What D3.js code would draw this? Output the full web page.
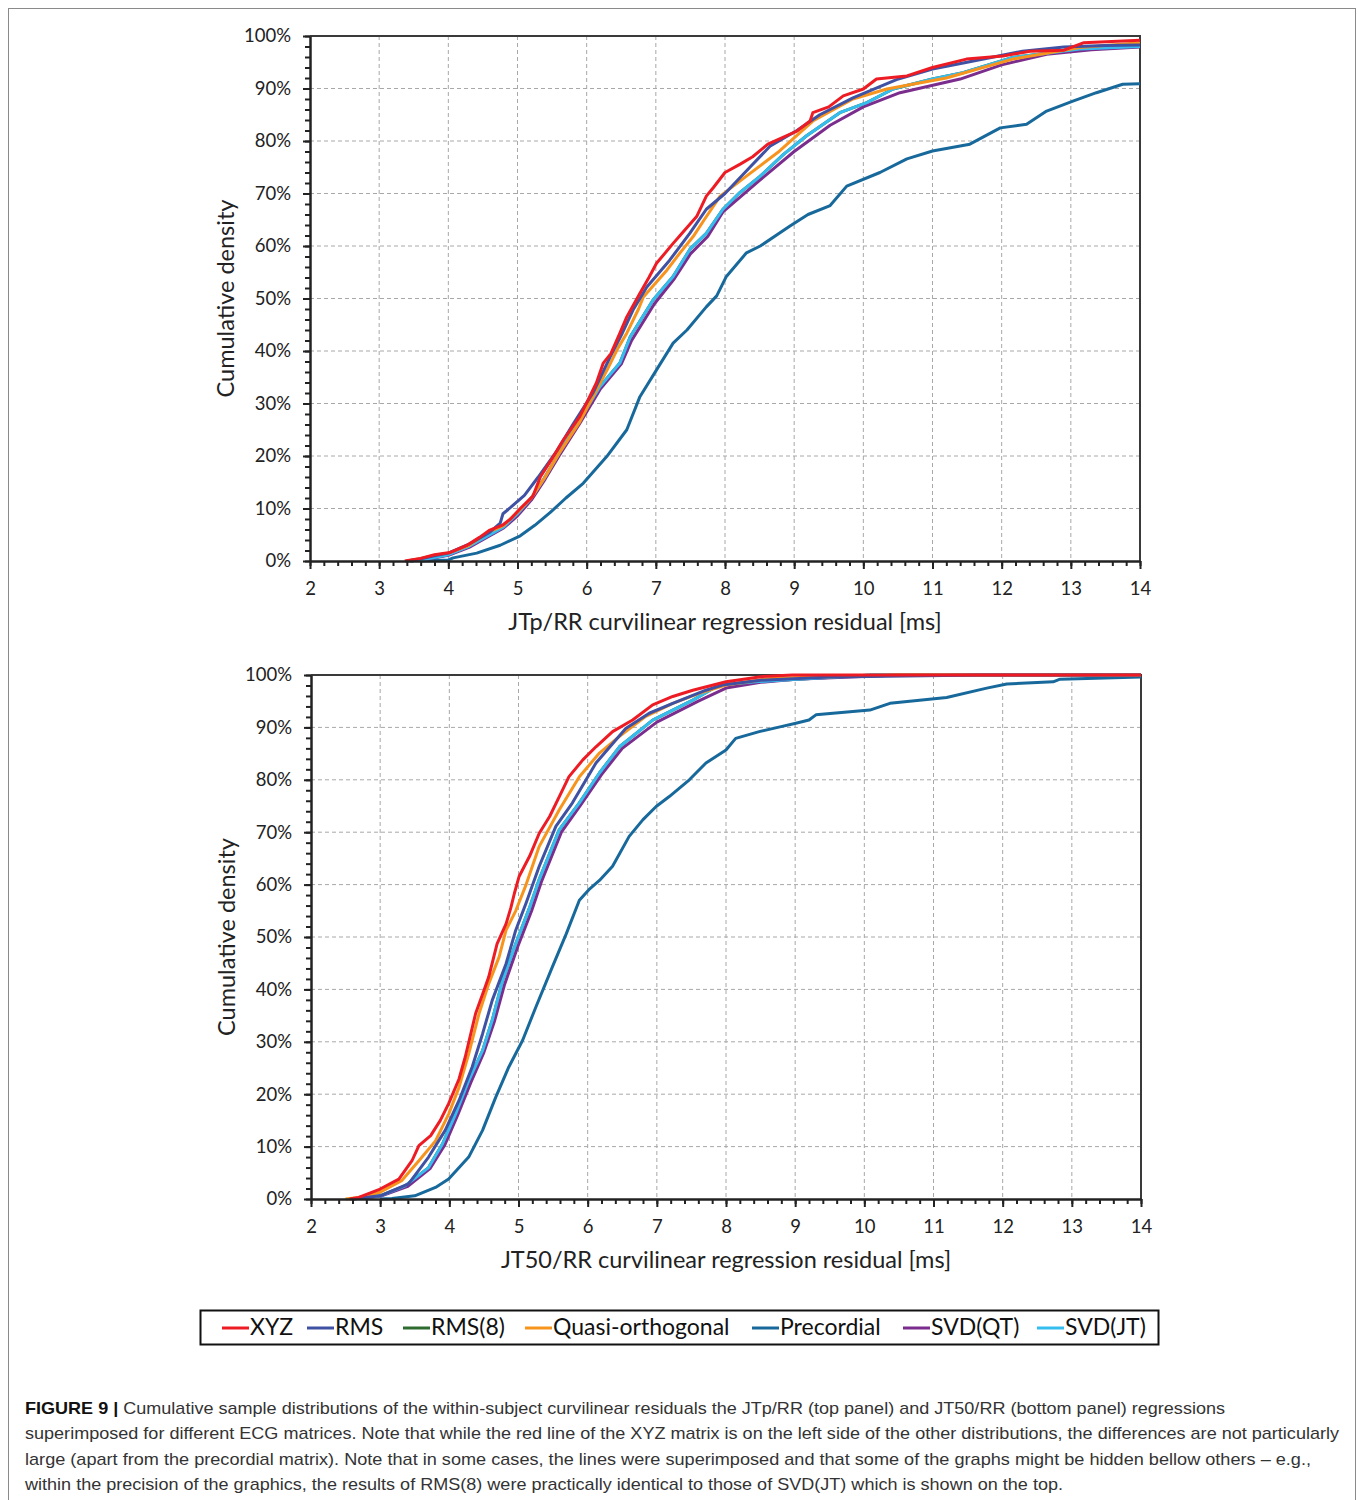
<!DOCTYPE html>
<html>
<head>
<meta charset="utf-8">
<script src="https://cdn.jsdelivr.net/npm/d3@7"></script>
<style>
  html, body { margin: 0; padding: 0; background: #fff; }
  svg { display: block; }
</style>
</head>
<body>
<svg id="fig" width="1358" height="1500"></svg>
<script>
// ---- data ---------------------------------------------------------------
const seriesNames = ["XYZ", "RMS", "RMS(8)", "Quasi-orthogonal", "Precordial", "SVD(QT)", "SVD(JT)"];
const seriesColors = ["#ed1c24", "#3f51a3", "#2e6b2e", "#f7941d", "#18699b", "#7b2d8e", "#36bdef"];

const xTickValues = [2, 3, 4, 5, 6, 7, 8, 9, 10, 11, 12, 13, 14];
const yTickValues = [0, 10, 20, 30, 40, 50, 60, 70, 80, 90, 100];

const topAxisTitle = "JTp/RR curvilinear regression residual [ms]";
const bottomAxisTitle = "JT50/RR curvilinear regression residual [ms]";
const yAxisTitle = "Cumulative density";

// JTp/RR residuals: [residual ms, cumulative %]
const jtpXYZ = [[3.37,0],[3.6,0.5],[3.8,1.2],[4.02,1.6],[4.27,3],[4.45,4.5],[4.6,5.9],[4.79,6.9],[4.9,8],[5.04,10],[5.22,12.3],[5.33,16],[5.5,19.5],[5.66,23],[5.9,27.5],[6.02,30.7],[6.14,33.9],[6.24,37.7],[6.35,39.5],[6.48,43.4],[6.58,46.5],[6.77,51],[6.9,54],[7.01,56.7],[7.25,60.5],[7.35,62],[7.59,65.6],[7.73,69.5],[7.83,71.1],[8.0,74],[8.22,75.6],[8.4,77],[8.62,79.4],[9.04,81.9],[9.23,83.8],[9.27,85.4],[9.5,86.5],[9.71,88.6],[10.0,89.9],[10.19,91.8],[10.63,92.4],[11.0,94],[11.49,95.6],[12.02,96.2],[12.41,97.1],[12.9,97.3],[13.18,98.7],[14,99.2]];
const jtpRMS = [[3.4,0],[3.6,0.4],[3.8,1.0],[4.0,1.5],[4.3,3.2],[4.6,5.5],[4.75,7.2],[4.79,9],[4.9,10.2],[5.1,12.5],[5.3,16],[5.57,21],[5.8,26],[6.09,32],[6.34,38.9],[6.5,43],[6.67,47.8],[6.87,52.2],[7.2,57.3],[7.49,62.4],[7.73,67],[8.0,70],[8.36,75],[8.65,79],[9.04,82],[9.37,85],[9.85,88.2],[10.48,91.7],[11.0,93.7],[11.5,95],[12.3,97.1],[12.9,97.9],[13.5,98.2],[14,98.3]];
const jtpRMS8 = [[3.45,0],[3.7,0.4],[4.0,1.2],[4.3,2.8],[4.6,5],[4.8,6.5],[5.0,9],[5.2,12],[5.37,15.4],[5.6,20.5],[5.9,26.9],[6.19,33.2],[6.48,37.7],[6.63,42.7],[6.96,49.7],[7.25,54.2],[7.5,59.5],[7.73,62.4],[7.97,67],[8.2,70],[8.51,73.3],[8.85,77.5],[9.18,81],[9.66,85.4],[10.05,87.3],[10.43,89.9],[11.0,91.8],[11.44,93],[12.16,95.9],[13.13,97.5],[14,98]];
const jtpQuasi = [[3.4,0],[3.6,0.5],[3.8,1.1],[4.0,1.5],[4.3,3],[4.6,5.6],[4.8,6.8],[5.0,9.3],[5.2,12],[5.4,16],[5.6,20.5],[5.9,26.5],[6.1,31.5],[6.3,36.5],[6.45,40.5],[6.58,43.4],[6.75,48],[6.82,50.3],[7.0,53],[7.16,55.4],[7.35,58.7],[7.54,61.8],[7.7,65],[7.93,69.5],[8.31,73.3],[8.79,78.1],[9.27,83.8],[9.85,88],[10.34,89.9],[11.2,92],[12.16,95.6],[13.13,97.8],[14,98.7]];
const jtpPrecordial = [[3.6,0],[4.0,0.2],[4.07,0.6],[4.41,1.5],[4.75,3],[5.04,4.8],[5.25,6.8],[5.47,9.2],[5.7,12],[5.95,14.8],[6.29,19.9],[6.58,25],[6.77,31.3],[7.01,36.4],[7.25,41.5],[7.45,44],[7.73,48.4],[7.88,50.5],[8.02,54.2],[8.31,58.7],[8.51,60],[8.94,63.8],[9.2,66],[9.52,67.7],[9.76,71.4],[10.24,74],[10.63,76.6],[11.0,78.1],[11.54,79.4],[11.98,82.5],[12.36,83.2],[12.65,85.7],[13.03,87.6],[13.37,89.2],[13.75,90.8],[14,90.9]];
const jtpSVDQT = [[3.45,0],[3.7,0.4],[4.0,1.1],[4.3,2.6],[4.6,4.8],[4.8,6.3],[5.0,8.6],[5.2,11.6],[5.4,15.6],[5.6,20],[5.9,26.2],[6.2,32.8],[6.5,37.5],[6.65,42],[6.98,49],[7.27,53.8],[7.5,58.5],[7.75,61.8],[7.97,66.5],[8.5,72.5],[9.0,78],[9.52,83],[10.0,86.5],[10.53,89.2],[11.4,91.8],[12.0,94.5],[12.65,96.5],[13.3,97.4],[14,97.9]];
const jtpSVDJT = [[3.45,0],[3.7,0.4],[4.0,1.2],[4.3,2.8],[4.6,5],[4.8,6.5],[5.0,9],[5.2,12],[5.37,15.4],[5.6,20.5],[5.9,26.9],[6.19,33.2],[6.48,37.7],[6.63,42.7],[6.96,49.7],[7.25,54.2],[7.5,59.5],[7.73,62.4],[7.97,67],[8.2,70],[8.51,73.3],[8.85,77.5],[9.18,81],[9.66,85.4],[10.05,87.3],[10.43,89.9],[11.0,91.8],[11.44,93],[12.16,95.9],[13.13,97.5],[14,98]];

// JT50/RR residuals: [residual ms, cumulative %]
const jt50XYZ = [[2.56,0],[2.69,0.3],[3.0,1.9],[3.27,3.8],[3.46,7.3],[3.56,10.2],[3.73,12.1],[3.87,15],[3.99,18.2],[4.14,22.9],[4.23,27.1],[4.38,35.4],[4.5,39.8],[4.57,42.4],[4.69,48.7],[4.82,52.5],[4.89,55.6],[4.94,58.3],[5.01,61.6],[5.16,65.4],[5.3,69.8],[5.45,73],[5.59,76.8],[5.73,80.6],[5.93,83.8],[6.12,86.3],[6.36,89.2],[6.65,91.4],[6.94,94.3],[7.23,95.9],[7.52,97.1],[8.0,98.7],[8.53,99.7],[8.96,100],[14,100]];
const jt50RMS = [[2.6,0],[3.0,0.6],[3.41,2.9],[3.7,8],[3.94,13.1],[4.14,18.8],[4.33,25.2],[4.48,31.5],[4.62,37.9],[4.82,44.9],[4.96,51.3],[5.11,56.5],[5.3,63.5],[5.54,71.1],[5.78,75.6],[6.12,83.2],[6.55,89.8],[6.89,92.7],[7.23,94.6],[7.71,97.1],[7.95,98.1],[8.5,99],[9.5,99.6],[11.7,100],[14,100]];
const jt50RMS8 = [[2.6,0],[3.0,0.6],[3.36,2.5],[3.7,6],[3.9,10.5],[4.09,16.2],[4.28,22.6],[4.48,28.3],[4.62,34.1],[4.77,41.7],[4.96,48.7],[5.16,55.6],[5.3,61],[5.59,70.5],[5.88,75.6],[6.17,81.3],[6.46,86.3],[6.94,91.4],[7.23,93.3],[7.52,95.2],[7.9,98.1],[8.43,98.7],[8.78,99],[10.1,100],[14,100]];
const jt50Quasi = [[2.5,0],[2.69,0.3],[3.0,1.3],[3.31,3.5],[3.56,7.3],[3.8,11.1],[3.99,16.2],[4.14,21.3],[4.28,27.7],[4.43,35.4],[4.57,41.1],[4.72,46.2],[4.82,51.3],[4.96,55],[5.11,60],[5.3,67.3],[5.59,74.3],[5.88,80.6],[6.17,85.1],[6.46,88.3],[6.84,92.1],[7.23,94.6],[7.61,96.5],[8.0,98.1],[8.67,99.4],[10.5,100],[14,100]];
const jt50Precordial = [[3.0,0],[3.17,0.1],[3.5,0.6],[3.8,2.2],[3.99,3.8],[4.28,8],[4.48,13.1],[4.67,19.4],[4.86,25.2],[5.06,30.3],[5.25,36.6],[5.49,44.3],[5.69,50.6],[5.88,57],[6.03,59.2],[6.17,60.8],[6.36,63.5],[6.6,69.2],[6.8,72.4],[6.99,74.9],[7.18,76.8],[7.47,80],[7.71,83.2],[8.0,85.7],[8.14,87.9],[8.48,89.2],[8.78,90.1],[9.01,90.8],[9.2,91.4],[9.3,92.4],[10.08,93.3],[10.37,94.6],[11.19,95.7],[11.77,97.5],[12.06,98.3],[12.73,98.7],[12.83,99.2],[14,99.6]];
const jt50SVDQT = [[2.6,0],[3.0,0.5],[3.4,2.4],[3.72,5.8],[3.93,10.2],[4.12,16],[4.31,22.2],[4.5,28],[4.65,33.8],[4.8,41],[4.99,48.2],[5.19,55],[5.33,60.5],[5.62,70],[5.9,75.2],[6.2,81],[6.5,86],[7.0,91],[7.3,93],[7.6,95],[8.0,97.5],[8.5,98.6],[9.0,99.2],[10.5,100],[14,100]];
const jt50SVDJT = [[2.6,0],[3.0,0.6],[3.36,2.5],[3.7,6],[3.9,10.5],[4.09,16.2],[4.28,22.6],[4.48,28.3],[4.62,34.1],[4.77,41.7],[4.96,48.7],[5.16,55.6],[5.3,61],[5.59,70.5],[5.88,75.6],[6.17,81.3],[6.46,86.3],[6.94,91.4],[7.23,93.3],[7.52,95.2],[7.9,98.1],[8.43,98.7],[8.78,99],[10.1,100],[14,100]];

const topSeries = [jtpXYZ, jtpRMS, jtpRMS8, jtpQuasi, jtpPrecordial, jtpSVDQT, jtpSVDJT];
const bottomSeries = [jt50XYZ, jt50RMS, jt50RMS8, jt50Quasi, jt50Precordial, jt50SVDQT, jt50SVDJT];

const captionLines = [
  "Cumulative sample distributions of the within-subject curvilinear residuals the JTp/RR (top panel) and JT50/RR (bottom panel) regressions",
  "superimposed for different ECG matrices. Note that while the red line of the XYZ matrix is on the left side of the other distributions, the differences are not particularly",
  "large (apart from the precordial matrix). Note that in some cases, the lines were superimposed and that some of the graphs might be hidden bellow others \u2013 e.g.,",
  "within the precision of the graphics, the results of RMS(8) were practically identical to those of SVD(JT) which is shown on the top."
];

// ---- drawing ------------------------------------------------------------
const svg = d3.select("#fig");
const chartFont = "Lato, 'Open Sans', sans-serif";

// thin frame around the whole figure
svg.append("rect")
  .attr("x", 8.5).attr("y", 8.5)
  .attr("width", 1347).attr("height", 1520)
  .attr("fill", "none").attr("stroke", "#8a8a8a").attr("stroke-width", 1);

// drawing order: later entries sit on top
const drawOrder = [4, 2, 5, 6, 3, 1, 0];

function drawPanel(box, seriesData, xTitle) {
  const x = d3.scaleLinear().domain([2, 14]).range([box.left, box.right]);
  const y = d3.scaleLinear().domain([0, 100]).range([box.bottom, box.top]);
  const g = svg.append("g");

  // dashed grid
  g.append("g").selectAll("line.v")
    .data(xTickValues.slice(1, -1)).join("line")
    .attr("x1", d => x(d)).attr("x2", d => x(d))
    .attr("y1", box.top).attr("y2", box.bottom)
    .attr("stroke", "#a8a8a8").attr("stroke-width", 1).attr("stroke-dasharray", "4,3");
  g.append("g").selectAll("line.h")
    .data(yTickValues.slice(1, -1)).join("line")
    .attr("y1", d => y(d)).attr("y2", d => y(d))
    .attr("x1", box.left).attr("x2", box.right)
    .attr("stroke", "#a8a8a8").attr("stroke-width", 1).attr("stroke-dasharray", "4,3");

  // top and right frame
  g.append("path")
    .attr("d", `M${box.left},${box.top}H${box.right}V${box.bottom}`)
    .attr("fill", "none").attr("stroke", "#3a3a3a").attr("stroke-width", 2);

  // series
  const line = d3.line().x(d => x(d[0])).y(d => y(d[1])).curve(d3.curveLinear);
  drawOrder.forEach(i => {
    g.append("path")
      .datum(seriesData[i])
      .attr("d", line)
      .attr("fill", "none")
      .attr("stroke", seriesColors[i])
      .attr("stroke-width", 3)
      .attr("stroke-linejoin", "round");
  });

  // minor ticks
  const xMinor = d3.range(0, 61).map(k => 2 + k * 0.2);
  const yMinor = d3.range(0, 51).map(k => k * 2);
  g.append("g")
    .attr("transform", `translate(0,${box.bottom})`)
    .call(d3.axisBottom(x).tickValues(xMinor).tickSize(5).tickFormat(""))
    .call(a => a.select(".domain").remove())
    .selectAll("line").attr("stroke", "#222").attr("stroke-width", 2);
  g.append("g")
    .attr("transform", `translate(${box.left},0)`)
    .call(d3.axisLeft(y).tickValues(yMinor).tickSize(5).tickFormat(""))
    .call(a => a.select(".domain").remove())
    .selectAll("line").attr("stroke", "#222").attr("stroke-width", 2);

  // major axes
  const xAxis = g.append("g")
    .attr("transform", `translate(0,${box.bottom})`)
    .call(d3.axisBottom(x).tickValues(xTickValues).tickSize(8).tickSizeOuter(0).tickPadding(13).tickFormat(d3.format("d")));
  xAxis.select(".domain").attr("stroke", "#222").attr("stroke-width", 2.5);
  xAxis.selectAll(".tick line").attr("stroke", "#222").attr("stroke-width", 2);
  xAxis.selectAll("text").attr("font-family", chartFont).attr("font-size", 18.5).attr("fill", "#222");

  const yAxis = g.append("g")
    .attr("transform", `translate(${box.left},0)`)
    .call(d3.axisLeft(y).tickValues(yTickValues).tickSize(7).tickSizeOuter(0).tickPadding(12).tickFormat(d => d + "%"));
  yAxis.select(".domain").attr("stroke", "#222").attr("stroke-width", 2.5);
  yAxis.selectAll(".tick line").attr("stroke", "#222").attr("stroke-width", 2);
  yAxis.selectAll("text").attr("font-family", chartFont).attr("font-size", 18.5).attr("fill", "#222");

  // axis titles
  g.append("text")
    .attr("x", (box.left + box.right) / 2)
    .attr("y", box.bottom + 69)
    .attr("text-anchor", "middle")
    .attr("font-family", chartFont).attr("font-size", 23.5).attr("fill", "#222")
    .text(xTitle);
  g.append("text")
    .attr("transform", `translate(${box.left - 76},${(box.top + box.bottom) / 2}) rotate(-90)`)
    .attr("text-anchor", "middle")
    .attr("font-family", chartFont).attr("font-size", 23.5).attr("fill", "#222")
    .text(yAxisTitle);
}

drawPanel({ left: 310, right: 1140, top: 36, bottom: 561 }, topSeries, topAxisTitle);
drawPanel({ left: 311, right: 1141, top: 675, bottom: 1199 }, bottomSeries, bottomAxisTitle);

// legend
const legendX = [222, 307, 403, 525, 752, 903, 1037];
const legend = svg.append("g");
legend.append("rect")
  .attr("x", 200.5).attr("y", 1310.5).attr("width", 958).attr("height", 34)
  .attr("fill", "#fff").attr("stroke", "#111").attr("stroke-width", 2);
seriesNames.forEach((name, i) => {
  legend.append("line")
    .attr("x1", legendX[i]).attr("x2", legendX[i] + 27)
    .attr("y1", 1328).attr("y2", 1328)
    .attr("stroke", seriesColors[i]).attr("stroke-width", 3);
  legend.append("text")
    .attr("x", legendX[i] + 28).attr("y", 1335)
    .attr("font-family", chartFont).attr("font-size", 23).attr("fill", "#111")
    .text(name);
});

// caption
const captionEnds = [1225, 1339, 1311, 1063];
captionLines.forEach((t, i) => {
  const txt = svg.append("text")
    .attr("x", 25).attr("y", 1414 + i * 25.3)
    .attr("font-family", "'Liberation Sans', Arial, sans-serif")
    .attr("font-size", 17).attr("fill", "#333")
    .attr("textLength", captionEnds[i] - 25)
    .attr("lengthAdjust", "spacingAndGlyphs");
  if (i === 0) {
    txt.append("tspan").attr("font-weight", "bold").attr("fill", "#111").text("FIGURE 9 | ");
  }
  txt.append("tspan").text(t);
});
</script>
</body>
</html>
